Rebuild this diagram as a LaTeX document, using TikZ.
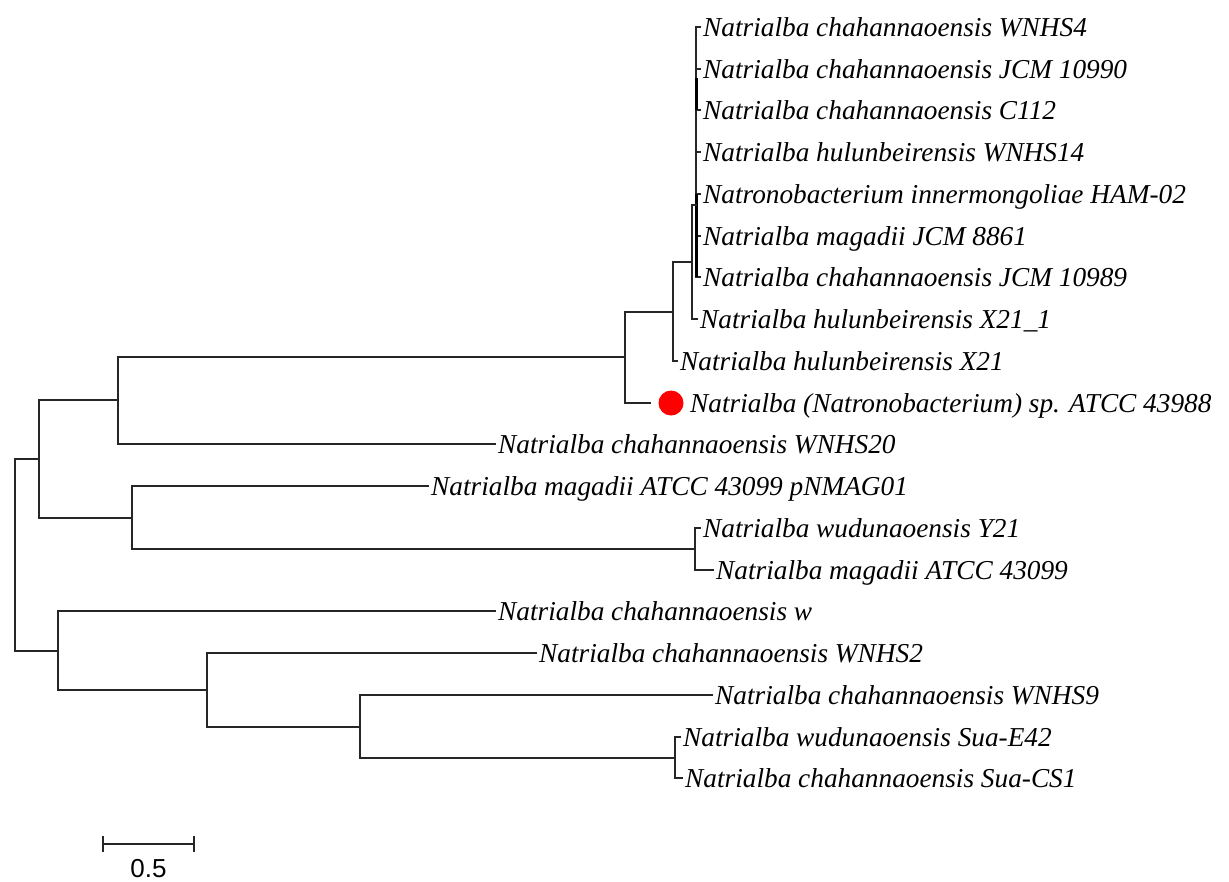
\documentclass[tikz,border=0pt]{standalone}
\usepackage{fontspec}
\setmainfont{Liberation Serif}
\newfontfamily\barfont{Liberation Sans}
\usetikzlibrary{positioning}

\tikzset{
  branch/.style={line width=1.4pt, black!85, line cap=rect},
  taxon/.style={anchor=base west, xshift=3pt, yshift=-9pt, inner sep=0pt,
    font=\fontsize{27.3}{32}\selectfont\itshape},
  marker/.style={circle, fill=red, minimum size=25pt, inner sep=0pt},
}

\begin{document}
\begin{tikzpicture}[x=1pt,y=-1pt]
\useasboundingbox (0,0) rectangle (1229,881);

% leaf tips
\coordinate (e0) at (700,27);
\coordinate (e1) at (700,69);
\coordinate (e2) at (700,110);
\coordinate (e3) at (700,152);
\coordinate (e4) at (700,194);
\coordinate (e5) at (700,236);
\coordinate (e6) at (700,277);
\coordinate (e7) at (697,319);
\coordinate (e8) at (677,361);
\coordinate (e9) at (650,403);
\coordinate (e10) at (495,444);
\coordinate (e11) at (428,486);
\coordinate (e12) at (700,528);
\coordinate (e13) at (713,570);
\coordinate (e14) at (495,611);
\coordinate (e15) at (536,653);
\coordinate (e16) at (712,695);
\coordinate (e17) at (680,737);
\coordinate (e18) at (682,778);

% inner nodes
\coordinate (np) at (696,205);
\coordinate (n2) at (692,262);
\coordinate (n1) at (673,312);
\coordinate (n0) at (625,357);
\coordinate (na) at (118,400);
\coordinate (nd) at (695,549);
\coordinate (nc) at (132,518);
\coordinate (nb) at (39,459);
\coordinate (nh) at (675,758);
\coordinate (ng) at (360,727);
\coordinate (nf) at (207,690);
\coordinate (ne) at (58,651);
\coordinate (root) at (15,555);

% branches
\draw[branch] (e0) -| (np) |- (e6);
\draw[branch] (np) |- (e1) (np) |- (e2) (np) |- (e3) (np) |- (e4) (np) |- (e5);
\draw[line width=3pt] (np |- 0,78) -- (np |- e2);
\draw[line width=3pt] (np |- e4) -- (np |- e6);
\draw[branch] (np) -| (n2) |- (e7);
\draw[branch] (n2) -| (n1) |- (e8);
\draw[branch] (n1) -| (n0) |- (e9);
\draw[branch] (n0) -| (na) |- (e10);
\draw[branch] (e12) -| (nd) |- (e13);
\draw[branch] (e11) -| (nc) |- (nd);
\draw[branch] (na) -| (nb) |- (nc);
\draw[branch] (e17) -| (nh) |- (e18);
\draw[branch] (e16) -| (ng) |- (nh);
\draw[branch] (e15) -| (nf) |- (ng);
\draw[branch] (e14) -| (ne) |- (nf);
\draw[branch] (nb) -| (root) |- (ne);

% taxa
\node[taxon] (t0) at (e0) {Natrialba chahannaoensis WNHS4};
\node[taxon] (t1) at (e1) {Natrialba chahannaoensis JCM 10990};
\node[taxon] (t2) at (e2) {Natrialba chahannaoensis C112};
\node[taxon] (t3) at (e3) {Natrialba hulunbeirensis WNHS14};
\node[taxon] (t4) at (e4) {Natronobacterium innermongoliae HAM-02};
\node[taxon] (t5) at (e5) {Natrialba magadii JCM 8861};
\node[taxon] (t6) at (e6) {Natrialba chahannaoensis JCM 10989};
\node[taxon] (t7) at (e7) {Natrialba hulunbeirensis X21\_1};
\node[taxon] (t8) at (e8) {Natrialba hulunbeirensis X21};
\node[marker] (dot) at (671,403) {};
\node[taxon, xshift=37pt] (t9) at (e9) {Natrialba (Natronobacterium) sp. ATCC 43988};
\node[taxon] (t10) at (e10) {Natrialba chahannaoensis WNHS20};
\node[taxon] (t11) at (e11) {Natrialba magadii ATCC 43099 pNMAG01};
\node[taxon] (t12) at (e12) {Natrialba wudunaoensis Y21};
\node[taxon] (t13) at (e13) {Natrialba magadii ATCC 43099};
\node[taxon] (t14) at (e14) {Natrialba chahannaoensis w};
\node[taxon] (t15) at (e15) {Natrialba chahannaoensis WNHS2};
\node[taxon] (t16) at (e16) {Natrialba chahannaoensis WNHS9};
\node[taxon] (t17) at (e17) {Natrialba wudunaoensis Sua-E42};
\node[taxon] (t18) at (e18) {Natrialba chahannaoensis Sua-CS1};

% scale bar
\coordinate (sbL) at (103,844);
\coordinate (sbR) at (194,844);
\draw[branch, line cap=butt] (sbL) -- (sbR);
\draw[branch, line cap=butt] ([yshift=8pt]sbL) -- ([yshift=-8pt]sbL);
\draw[branch, line cap=butt] ([yshift=8pt]sbR) -- ([yshift=-8pt]sbR);
\node[anchor=base, inner sep=0pt, font=\barfont\fontsize{26}{30}\selectfont] (sblabel) at (148.5,877) {0.5};
\end{tikzpicture}
\end{document}
